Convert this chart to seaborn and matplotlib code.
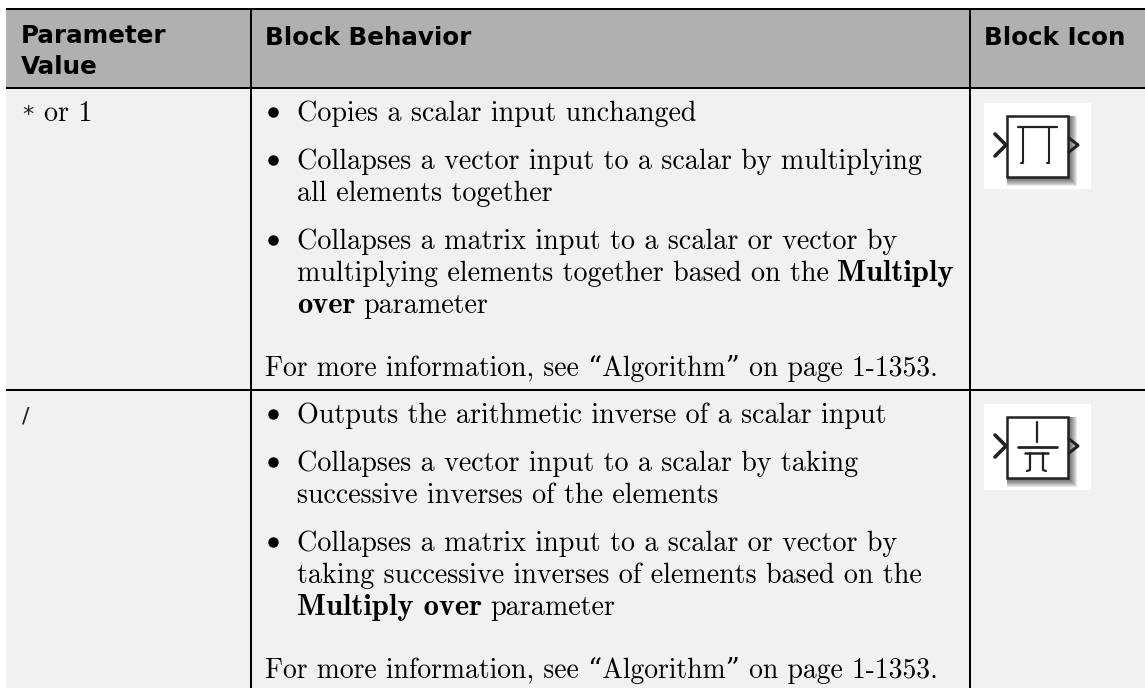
import matplotlib
matplotlib.use("Agg")
import matplotlib.pyplot as plt
from matplotlib.colors import ListedColormap
from matplotlib.patches import Rectangle
import numpy as np
import seaborn as sns

W, H = 1145, 688
HEAD_BG = "#b0b0b0"
BODY_BG = "#f1f1f1"

headers = ["Parameter", "Value", "Block Behavior", "Block Icon"]
param_values = ["* or 1", "/"]

row1_bullets = [
    ["Copies a scalar input unchanged"],
    ["Collapses a vector input to a scalar by multiplying", "all elements together"],
    ["Collapses a matrix input to a scalar or vector by",
     "multiplying elements together based on the **Multiply**",
     "**over** parameter"],
]
row2_bullets = [
    ["Outputs the arithmetic inverse of a scalar input"],
    ["Collapses a vector input to a scalar by taking", "successive inverses of the elements"],
    ["Collapses a matrix input to a scalar or vector by",
     "taking successive inverses of elements based on the",
     "**Multiply over** parameter"],
]
more_info = "For more information, see \u201cAlgorithm\u201d on page 1-1353."

sns.set_theme(style="white")
plt.rcParams["font.family"] = ["cmr10", "DejaVu Serif"]
plt.rcParams["axes.formatter.use_mathtext"] = True

fig = plt.figure(figsize=(W / 100, H / 100), dpi=100, facecolor="white")


def px_axes(x0, y0, x1, y1):
    return fig.add_axes([x0 / W, 1 - y1 / H, (x1 - x0) / W, (y1 - y0) / H])


# table bands
for box, col in [((6, 9, W, 88), HEAD_BG), ((6, 88, W, H), BODY_BG)]:
    sns.heatmap(np.zeros((1, 1)), ax=px_axes(*box), cbar=False, cmap=ListedColormap([col]),
                xticklabels=False, yticklabels=False)

ax = fig.add_axes([0, 0, 1, 1])
ax.set_xlim(0, W)
ax.set_ylim(H, 0)
ax.axis("off")
ax.patch.set_alpha(0)

# rules
for y in [9, 88, 390]:
    ax.plot([6, W], [y, y], color="black", lw=1.45, solid_capstyle="butt")
for x in [251, 970]:
    ax.plot([x, x], [9, H], color="black", lw=1.45, solid_capstyle="butt")

# header
HEAD_FONT = dict(family=["DejaVu Sans"], fontweight="bold", fontsize=17.7, color="black")
ax.text(21, 42.7, headers[0], **HEAD_FONT)
ax.text(21, 74, headers[1], **HEAD_FONT)
ax.text(265, 45, headers[2], **HEAD_FONT)
ax.text(984, 45, headers[3], **HEAD_FONT)

SIZE = 20.2
BOLD_SIZE = 22
fig.canvas.draw()
rend = fig.canvas.get_renderer()


def rich_line(x, y, line, size=SIZE):
    parts = line.split("**")
    for i, part in enumerate(parts):
        if not part:
            continue
        if i % 2:
            t = ax.text(x, y, part.strip(), family=["cmb10", "DejaVu Serif"], fontsize=BOLD_SIZE, color="black")
        else:
            t = ax.text(x, y, part.strip(), family=["cmr10", "DejaVu Serif"], fontsize=size, color="black")
        x = t.get_window_extent(rend).x1 + 8


def draw_row(value, bullets, first_y):
    sym, _, rest = value.partition(" ")
    ax.text(22, first_y, sym, family=["DejaVu Sans"], fontsize=16, color="#222222")
    if rest:
        rich_line(44, first_y, rest)
    y = first_y
    for lines in bullets:
        ax.plot([273], [y - 9], "o", color="black", ms=7.5, mew=0)
        for line in lines:
            rich_line(297, y, line)
            y += 32
        y += 16
    # the quotes come from the wider fallback font
    rich_line(265, y + 15, more_info, size=19.9)


draw_row(param_values[0], row1_bullets, 121)
draw_row(param_values[1], row2_bullets, 423)


def draw_icon(x0, y0, below_bar):
    # white tile + shadowed block, sizes from the 107 x 86 px tile
    ax.add_patch(Rectangle((x0, y0), 107, 86, color="white", lw=0, zorder=2))
    for k in range(9, 0, -1):
        ax.add_patch(Rectangle((x0 + 23, y0 + 13), 61 + k, 61 + k, color="black", alpha=0.09, lw=0, zorder=3))
    ax.add_patch(Rectangle((x0 + 23, y0 + 13), 61, 61, fc="white", ec="#222222", lw=1.8, zorder=4))
    kw = dict(color="#222222", zorder=5, solid_capstyle="round", solid_joinstyle="round")
    ax.plot([x0 + 11, x0 + 22, x0 + 11], [y0 + 31, y0 + 42, y0 + 53], lw=2.6, **kw)
    ax.plot([x0 + 85, x0 + 94, x0 + 85], [y0 + 35, y0 + 42, y0 + 49], lw=2.2, **kw)
    if below_bar:
        ax.plot([x0 + 53, x0 + 53], [y0 + 18, y0 + 38], lw=1.6, **kw)
        ax.plot([x0 + 34, x0 + 73], [y0 + 43, y0 + 43], lw=2, **kw)
        ax.plot([x0 + 41, x0 + 64], [y0 + 49, y0 + 49], lw=1.8, **kw)
        ax.plot([x0 + 46, x0 + 46, x0 + 43], [y0 + 49, y0 + 66, y0 + 67], lw=1.6, **kw)
        ax.plot([x0 + 59, x0 + 59, x0 + 62], [y0 + 49, y0 + 66, y0 + 67], lw=1.6, **kw)
    else:
        ax.plot([x0 + 34, x0 + 73], [y0 + 24, y0 + 24], lw=1.6, **kw)
        ax.plot([x0 + 39, x0 + 39, x0 + 37], [y0 + 24, y0 + 60, y0 + 60], lw=1.5, **kw)
        ax.plot([x0 + 65, x0 + 65, x0 + 63], [y0 + 24, y0 + 60, y0 + 60], lw=1.5, **kw)


draw_icon(984, 103, False)
draw_icon(984, 404, True)

fig.savefig("out.png", dpi=100)
